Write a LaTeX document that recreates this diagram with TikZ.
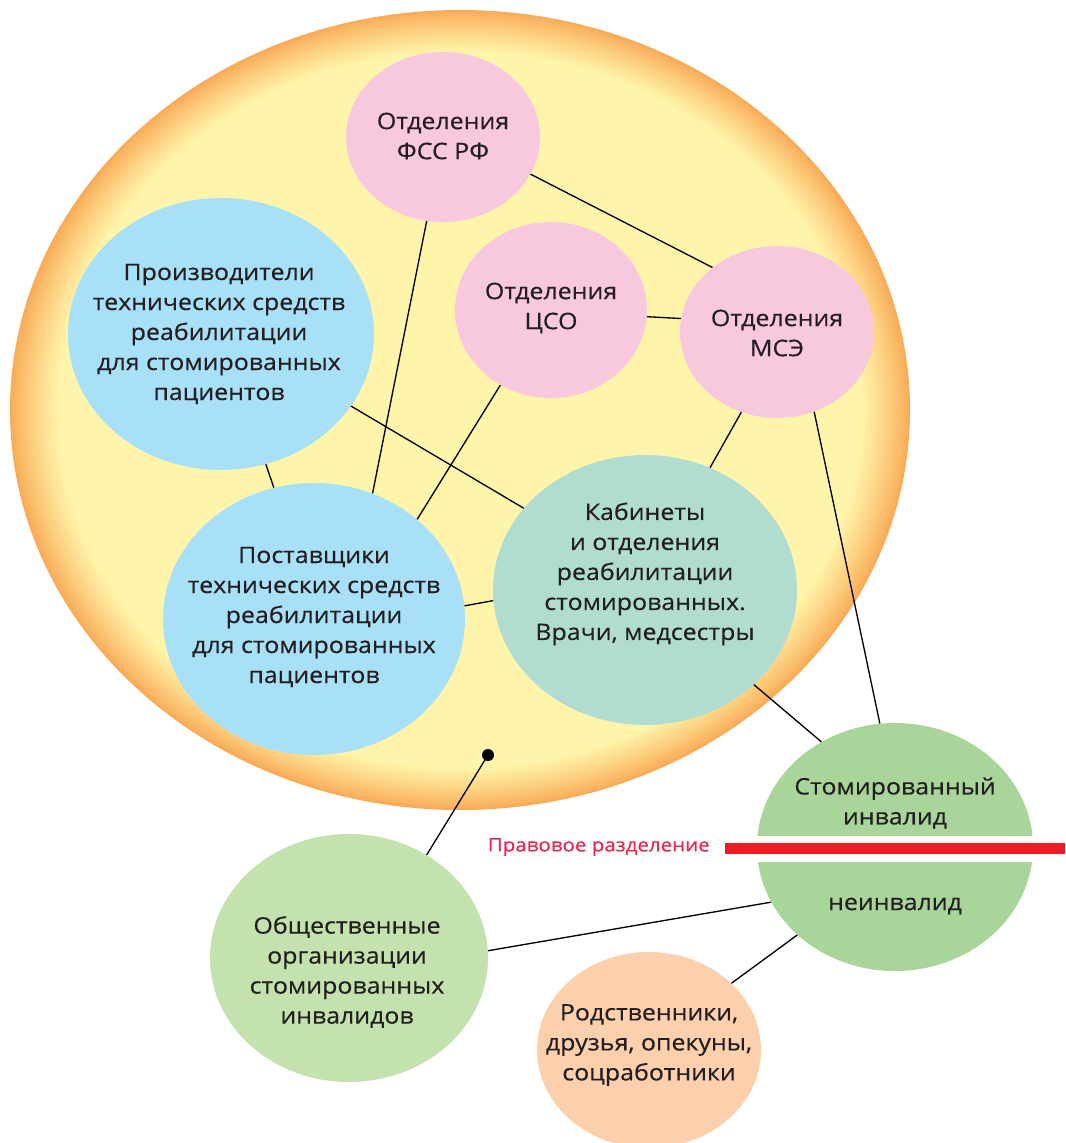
\documentclass[tikz,border=0pt]{standalone}
\usepackage{fontspec}
\setmainfont[FakeStretch=1.1,FakeBold=0.4]{Open Sans}
\usetikzlibrary{shapes.geometric}
\definecolor{eggin}{HTML}{FFF5AA}
\definecolor{eggout}{HTML}{F9AA56}
\definecolor{pinkc}{HTML}{F8C8DF}
\definecolor{bluec}{HTML}{A8E0F8}
\definecolor{tealc}{HTML}{B1DDD1}
\definecolor{stomc}{HTML}{A9D59B}
\definecolor{obshc}{HTML}{C4E2AE}
\definecolor{peachc}{HTML}{FCD0AC}
\definecolor{redc}{HTML}{ED1C24}
\definecolor{redtxt}{HTML}{EA2450}
\definecolor{txtc}{HTML}{231F20}
\begin{document}
\begin{tikzpicture}[x=0.75pt,y=-0.75pt,
  bub/.style={ellipse, inner sep=0pt, draw=none},
  sz/.style 2 args={minimum width={#1*1.5pt}, minimum height={#2*1.5pt}},
  txt/.style={align=center, font=\fontsize{17}{22.5}\selectfont, text=txtc, inner sep=0pt},
  link/.style={draw=black, line width=1pt}]
\useasboundingbox (0,0) rectangle (1065,1143);
\fill[white] (0,0) rectangle (1065,1143);
\foreach \i in {0,...,30}{
  \pgfmathsetmacro\rx{450-1.6*\i}
  \pgfmathsetmacro\ry{400-1.4*\i}
  \pgfmathsetmacro\p{100*(\i/30)^0.85}
  \fill[eggin!\p!eggout] (460,410) ellipse [x radius=\rx, y radius=\ry];
}

\node[bub, fill=pinkc, sz={97}{85}] (fss) at (443,137) {};
\node[bub, fill=bluec, sz={153}{136}] (prod) at (221,334) {};
\node[bub, fill=pinkc, sz={96}{88}] (cso) at (551,310) {};
\node[bub, fill=pinkc, sz={97}{86}] (mse) at (777,332) {};
\node[bub, fill=bluec, sz={151}{136}] (post) at (314,619) {};
\node[bub, fill=tealc, sz={152}{135}] (kab) at (645,590) {};
\node[bub, fill=stomc, sz={138}{124}] (stom) at (895,847) {};
\node[bub, fill=obshc, sz={139}{124}] (obsh) at (349,958) {};
\node[bub, fill=peachc, sz={112}{98}] (rod) at (649,1050) {};
\node[circle, fill=black, inner sep=0pt, minimum size=9pt] (dot) at (488,755) {};

\fill[white] (745,836) rectangle (1045,862);
\fill[redc] (725,843) rectangle (1065,854);

\node[txt] (fsst) at (443,136) {Отделения\\ФСС РФ};
\node[txt] (prodt) at (219,334) {Производители\\технических средств\\реабилитации\\для стомированных\\пациентов};
\node[txt] (csot) at (551,308) {Отделения\\ЦСО};
\node[txt] (mset) at (777,333) {Отделения\\МСЭ};
\node[txt] (postt) at (314,617) {Поставщики\\технических средств\\реабилитации\\для стомированных\\пациентов};
\node[txt] (kabt) at (645,574) {Кабинеты\\и отделения\\реабилитации\\стомированных.\\Врачи, медсестры};
\node[txt] (stomt) at (895,803) {Стомированный\\инвалид};
\node[txt] (stomb) at (895,906) {неинвалид};
\node[txt] (obsht) at (347,972) {Общественные\\организации\\стомированных\\инвалидов};
\node[txt] (rodt) at (649,1045) {Родственники,\\друзья, опекуны,\\соцработники};
\node[anchor=east, inner sep=0pt, font=\fontsize{14}{16}\selectfont, text=redtxt] (legal) at (710,847) {Правовое разделение};

\draw[link] (fss.-23.6) -- (mse.135.4);
\draw[link] (fss.259.3) -- (post.65.5);
\draw[link] (prod.289.6) -- (post.107.4);
\draw[link] (prod.-29.1) -- (kab.146.7);
\draw[link] (cso.236.1) -- (post.44.2);
\draw[link] (cso.-4.1) -- (mse.172.8);
\draw[link] (mse.246.4) -- (kab.62.2);
\draw[link] (mse.295.1) -- (stom.97.9);
\draw[link] (post.5.3) -- (kab.184.1);
\draw[link] (kab.319.2) -- (stom.125.8);
\draw[link] (dot.center) -- (obsh.53.7);
\draw[link] (stom.204.3) -- (obsh.3.3);
\draw[link] (stom.222.6) -- (rod.39.8);
\end{tikzpicture}
\end{document}
